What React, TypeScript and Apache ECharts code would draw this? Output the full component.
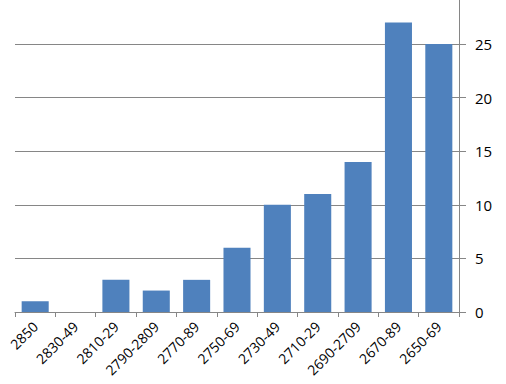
import React, { useEffect, useRef } from "react";
import * as echarts from "echarts";

const categories = ["2850", "2830-49", "2810-29", "2790-2809", "2770-89", "2750-69", "2730-49", "2710-29", "2690-2709", "2670-89", "2650-69"];
const values = [1, 0, 3, 2, 3, 6, 10, 11, 14, 27, 25];
const yTickLabels = ["0", "5", "10", "15", "20", "25"];

export default function App() {
  const ref = useRef<HTMLDivElement>(null);
  useEffect(() => {
    const chart = echarts.init(ref.current!, null, { renderer: "svg" });
    chart.setOption({
      animation: false,
      grid: { left: 15, right: 47, top: -9.6, bottom: 72, outerBoundsMode: "none", containLabel: false },
      xAxis: {
        type: "category",
        data: categories,
        boundaryGap: true,
        axisLine: { show: true, lineStyle: { color: "#868686", width: 1 } },
        axisTick: { show: true, length: 5, lineStyle: { color: "#868686" } },
        axisLabel: {
          rotate: 45,
          fontSize: 14,
          fontFamily: "Open Sans",
          color: "#000",
          margin: 12,
          interval: 0,
        },
      },
      yAxis: {
        type: "value",
        position: "right",
        min: 0,
        max: 30,
        interval: 5,
        axisLine: { show: true, lineStyle: { color: "#868686", width: 1 } },
        axisTick: { show: true, length: 7, inside: false, lineStyle: { color: "#868686" } },
        splitLine: { show: true, lineStyle: { color: "#868686", width: 1 } },
        axisLabel: {
          fontSize: 15,
          fontFamily: "Open Sans",
          color: "#000",
          margin: 16,
          formatter: (v: number) => (yTickLabels.includes(String(v)) ? String(v) : ""),
        },
      },
      series: [
        {
          type: "bar",
          data: values,
          barWidth: "67%",
          itemStyle: { color: "#4F81BD" },
        },
      ],
    });
    return () => chart.dispose();
  }, []);
  return <div ref={ref} style={{ position: "fixed", left: 0, top: 0, width: 506, height: 384, background: "#fff" }} />;
}
